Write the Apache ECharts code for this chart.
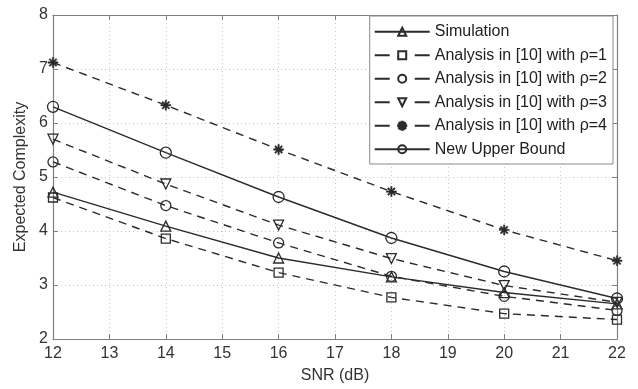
<!DOCTYPE html>
<html>
<head>
<meta charset="utf-8">
<script src="https://cdn.jsdelivr.net/npm/echarts@6/dist/echarts.min.js"></script>
<style>html,body{margin:0;padding:0;background:#fff}#c{width:638px;height:389px}</style>
</head>
<body>
<div id="c"></div>
<script>
var snr = [12, 14, 16, 18, 20, 22];
var simulation = [4.72, 4.09, 3.50, 3.15, 2.86, 2.65];
var rho1 = [4.62, 3.86, 3.23, 2.77, 2.47, 2.36];
var rho2 = [5.28, 4.47, 3.78, 3.16, 2.79, 2.53];
var rho3 = [5.70, 4.87, 4.11, 3.49, 2.99, 2.68];
var rho4 = [7.12, 6.33, 5.51, 4.73, 4.02, 3.45];
var upperBound = [6.30, 5.45, 4.63, 3.87, 3.25, 2.75];
var names = ['Simulation', 'Analysis in [10] with \u03c1=1', 'Analysis in [10] with \u03c1=2',
  'Analysis in [10] with \u03c1=3', 'Analysis in [10] with \u03c1=4', 'New Upper Bound'];
var dashedFlags = [false, true, true, true, true, false];

var star = 'path://M-0.7,-5L0.7,-5L0.7,5L-0.7,5Z M-5,-0.7L5,-0.7L5,0.7L-5,0.7Z M-3.0,-4.0L4.0,3.0L3.0,4.0L-4.0,-3.0Z M-4.0,3.0L3.0,-4.0L4.0,-3.0L-3.0,4.0Z';

function pts(arr) { return snr.map(function (x, i) { return [x, arr[i]]; }); }
var lineColor = '#2b2b2b';
function mk(name, arr, symbol, dashed, size, rotate, filled) {
  return {
    name: name, type: 'line', data: pts(arr),
    symbol: symbol, symbolSize: size, symbolRotate: rotate || 0,
    showAllSymbol: true,
    lineStyle: { color: lineColor, width: 1.4, type: dashed ? [8, 6] : 'solid' },
    itemStyle: { color: filled ? lineColor : 'rgba(255,255,255,0)', borderColor: lineColor, borderWidth: filled ? 0.5 : 1.3 },
    emphasis: { disabled: true }, animation: false, z: 3
  };
}
var frame = '#808080';
var font = 'Liberation Sans, Arial, sans-serif';
var chart = echarts.init(document.getElementById('c'), null, { renderer: 'canvas' });
chart.setOption({
  animation: false,
  backgroundColor: '#fff',
  textStyle: { fontFamily: font },
  grid: { left: 53, right: 21, top: 15, bottom: 47, show: false },
  legend: {
    orient: 'vertical', right: 25, top: 16,
    backgroundColor: '#fff', borderColor: '#8a8a8a', borderWidth: 1, borderRadius: 0,
    padding: [6, 6, 5, 4], itemWidth: 55, itemHeight: 10, itemGap: 4,
    textStyle: { fontSize: 16, color: '#222', lineHeight: 19.5, fontFamily: font },
    data: names.map(function (n, i) {
      return dashedFlags[i] ? { name: n, lineStyle: { type: [15, 25] } } : { name: n };
    })
  },
  xAxis: [{
    type: 'value', min: 12, max: 22, interval: 1,
    name: 'SNR (dB)', nameLocation: 'middle', nameGap: 29,
    nameTextStyle: { fontSize: 16, color: '#333' },
    axisLine: { lineStyle: { color: frame, width: 1.2 } },
    axisTick: { inside: true, length: 5, lineStyle: { color: frame } },
    axisLabel: { fontSize: 16, color: '#333', margin: 7 },
    splitLine: { show: true, lineStyle: { color: '#c8c8c8', type: [1, 3], width: 1 } }
  }, {
    type: 'value', position: 'top', min: 12, max: 22, interval: 1,
    axisLine: { show: true, lineStyle: { color: frame, width: 1.2 } },
    axisTick: { inside: true, length: 5, lineStyle: { color: frame } },
    axisLabel: { show: false }, splitLine: { show: false }
  }],
  yAxis: [{
    type: 'value', min: 2, max: 8, interval: 1,
    name: 'Expected Complexity', nameLocation: 'middle', nameGap: 18, nameRotate: 90,
    nameTextStyle: { fontSize: 16, color: '#333' },
    axisLine: { show: true, lineStyle: { color: frame, width: 1.2 } },
    axisTick: { show: true, inside: true, length: 5, lineStyle: { color: frame } },
    axisLabel: { fontSize: 16, color: '#333', margin: 5 },
    splitLine: { show: true, lineStyle: { color: '#c8c8c8', type: [1, 3], width: 1 } }
  }, {
    type: 'value', position: 'right', min: 2, max: 8, interval: 1,
    axisLine: { show: true, lineStyle: { color: frame, width: 1.2 } },
    axisTick: { show: true, inside: true, length: 5, lineStyle: { color: frame } },
    axisLabel: { show: false }, splitLine: { show: false }
  }],
  series: [
    mk(names[0], simulation, 'triangle', false, 10, 0, false),
    mk(names[1], rho1, 'rect', true, 9, 0, false),
    mk(names[2], rho2, 'circle', true, 10, 0, false),
    mk(names[3], rho3, 'triangle', true, 10, 180, false),
    mk(names[4], rho4, star, true, 10, 0, true),
    mk(names[5], upperBound, 'circle', false, 11, 0, false)
  ]
});
</script>
</body>
</html>
